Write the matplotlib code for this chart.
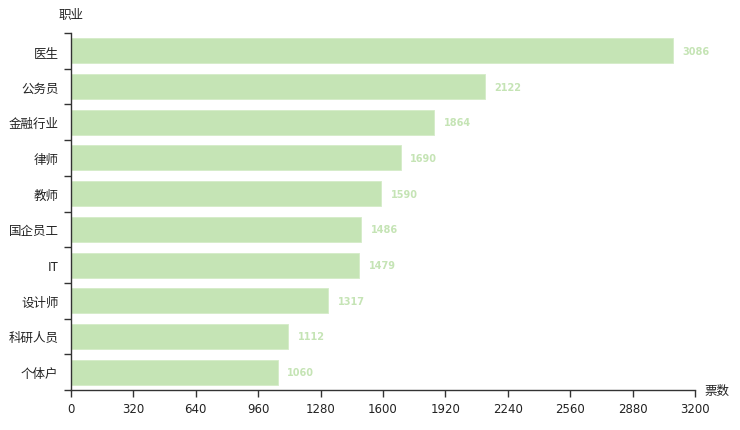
import matplotlib
matplotlib.use("Agg")
import matplotlib.pyplot as plt
import numpy as np

plt.rcParams['font.family'] = ['Noto Sans CJK SC', 'DejaVu Sans']

categories = ["医生", "公务员", "金融行业", "律师", "教师", "国企员工", "IT", "设计师", "科研人员", "个体户"]
values = [3086, 2122, 1864, 1690, 1590, 1486, 1479, 1317, 1112, 1060]
xticks = [0, 320, 640, 960, 1280, 1600, 1920, 2240, 2560, 2880, 3200]

bar_color = "#c5e4b5"
axis_color = "#333333"

fig = plt.figure(figsize=(7.4, 4.31), dpi=100)
ax = fig.add_axes([71/740, 1-391/431, (695-71)/740, (391-34)/431])

n = len(categories)
y = np.arange(n)
ax.barh(y, values, height=0.70, color=bar_color, edgecolor="#d4ecc8", linewidth=0.6)
ax.set_ylim(n - 0.5, -0.5)
ax.set_xlim(0, 3200)

for yi, v in zip(y, values):
    ax.annotate(str(v), xy=(v, yi), xytext=(7, 0), textcoords="offset points",
                va="center", ha="left", fontsize=7, fontweight="bold",
                color=bar_color, family="DejaVu Sans")

ax.set_xticks(xticks)
ax.set_xticklabels([str(t) for t in xticks], fontsize=8.5, family="DejaVu Sans", color="#222222")
ax.set_yticks(y)
ax.set_yticklabels(categories, fontsize=9, color="#222222")
ax.set_yticks(np.arange(n + 1) - 0.5, minor=True)
ax.tick_params(axis="y", which="major", length=0, pad=9)
ax.tick_params(axis="y", which="minor", length=5, width=1, color=axis_color, direction="out")
ax.tick_params(axis="x", length=5, width=1, color=axis_color, direction="out", pad=4)

for s in ["top", "right"]:
    ax.spines[s].set_visible(False)
for s in ["left", "bottom"]:
    ax.spines[s].set_color(axis_color)
    ax.spines[s].set_linewidth(1)

fig.text(71/740, 1-16/431, "职业", ha="center", va="center", fontsize=9, color="#222222")
fig.text(717/740, 1-391/431, "票数", ha="center", va="center", fontsize=9, color="#222222")

fig.savefig("out.png", dpi=100)
